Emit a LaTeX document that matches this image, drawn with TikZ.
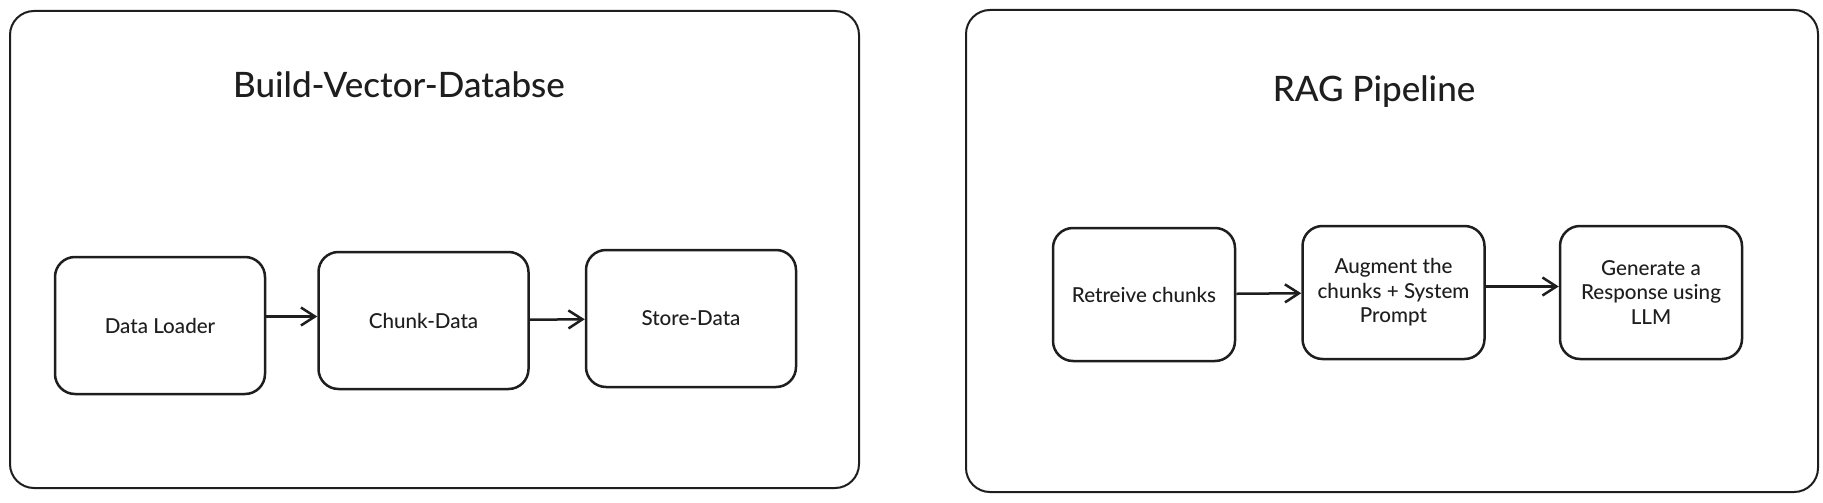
\documentclass[tikz,border=0pt]{standalone}
\usepackage{fontspec}
\setmainfont{Lato}[UprightFont={* Medium}]
\usetikzlibrary{
  positioning,
  arrows.meta
}
\definecolor{ink}{HTML}{1E1E1E}

\begin{document}
\begin{tikzpicture}[x=1pt,y=-1pt,node distance = 51pt,
    every node/.style={text=ink},
    frame/.style={draw=ink,line width=2pt,rounded corners=24pt,minimum width=849pt,minimum height=477pt},
    box/.style={draw=ink,line width=2.5pt,rounded corners=20pt,align=center,font=\fontsize{20.6}{24.5}\selectfont},
    title/.style={font=\fontsize{35}{40}\selectfont},
    arr/.style={draw=ink,line width=2.5pt,-{Straight Barb[length=14pt,width=18pt,line width=2.5pt]}}]
    \useasboundingbox (0,0) rectangle (1823,503);

    % Build-Vector-Databse
    \node[frame] (f1) at (434.5,249.5) {};
    \node[title] (t1) at (399,85) {Build-Vector-Databse};
    \node[box,minimum width=210pt,minimum height=137pt] (dl) at (160,325.5) {Data Loader};
    \node[box,minimum width=210pt,minimum height=137pt,right = of dl,yshift=5pt] (cd) {Chunk-Data};
    \node[box,minimum width=210pt,minimum height=137pt,right = 55pt of cd,yshift=2pt] (sd) {Store-Data};

    % RAG Pipeline
    \node[frame,minimum width=852pt,minimum height=482pt] (f2) at (1392,251) {};
    \node[title] (t2) at (1374,92) {RAG Pipeline};
    \node[box,minimum width=182pt,minimum height=133pt] (rc) at (1144,294.5) {Retreive chunks};
    \node[box,minimum width=182pt,minimum height=133pt,right = 65pt of rc,yshift=2pt] (ag) {Augment the\\chunks + System\\Prompt};
    \node[box,minimum width=182pt,minimum height=133pt,right = 73pt of ag] (gr) {Generate a\\Response using\\LLM};

    \draw[arr] (dl.east) ++(0,-9) coordinate (a1) -- (a1 -| cd.west);
    \draw[arr] (cd) -- (sd);
    \draw[arr] (rc) -- (ag);
    \draw[arr] (ag.east) ++(0,-6) coordinate (a2) -- (a2 -| gr.west);
  \end{tikzpicture}
\end{document}
